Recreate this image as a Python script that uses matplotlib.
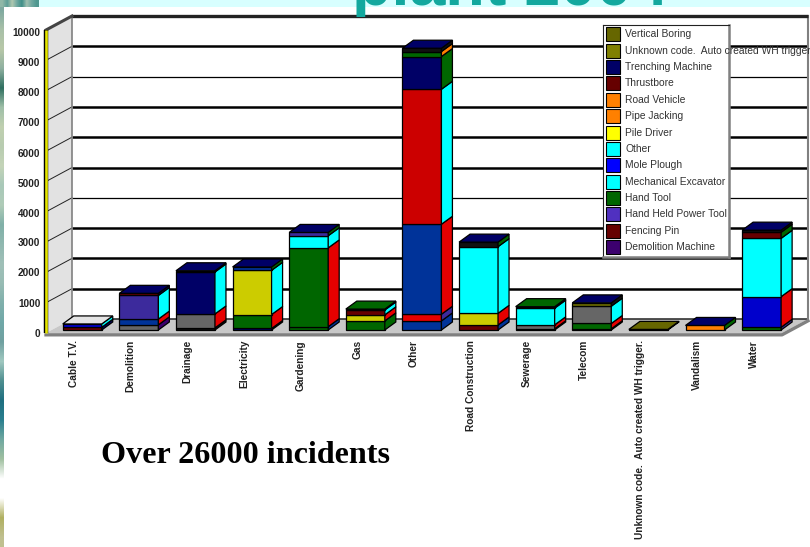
import matplotlib
matplotlib.use("Agg")
import matplotlib.pyplot as plt
import numpy as np
from matplotlib.colors import to_rgb
from matplotlib.patches import Polygon, Rectangle
from matplotlib.transforms import Bbox, ScaledTranslation

W, H = 810, 547

categories = ["Cable T.V.", "Demolition", "Drainage", "Electricity", "Gardening", "Gas", "Other",
              "Road Construction", "Sewerage", "Telecom",
              "Unknown code.  Auto created WH trigger.", "Vandalism", "Water"]

# stacked segments, bottom to top, for each category
stack_values = [
    [90, 110],
    [170, 190, 780, 70],
    [70, 460, 1385, 40],
    [50, 460, 1460, 110, 30],
    [110, 2600, 400, 110],
    [300, 200, 160, 30],
    [300, 220, 2970, 4455, 1080, 165, 110],
    [165, 385, 2200, 150],
    [40, 130, 550, 50],
    [40, 175, 570, 110],
    [20],
    [150],
    [90, 1010, 1925, 200, 70],
]

RED = "#cc0000"
BRED = "#e60000"
ROYAL = "#003399"
BLUE = "#0000cc"
YEL = "#cccc00"
GRN = "#006600"
GRY = "#666666"
NAVY = "#000066"
PUR = "#3c2a9c"
DPUR = "#3c006e"
CYAN = "#00ffff"
ORG = "#ff8000"
DRED = "#660000"
OLV = "#666600"
BLK = "#111111"

stack_front = [
    [DRED, BLUE], [GRY, ROYAL, PUR, DRED], [BLK, GRY, NAVY, DPUR], [NAVY, GRN, YEL, ROYAL, BLK],
    [GRN, GRN, CYAN, PUR], [GRN, YEL, DRED, GRN], [ROYAL, BRED, ROYAL, RED, NAVY, GRN, BLK],
    [DRED, YEL, CYAN, BLK], [BLK, GRY, CYAN, DRED], [DRED, GRN, GRY, OLV], [OLV], [ORG],
    [GRN, BLUE, CYAN, DRED, BLK],
]
stack_side = [
    [NAVY, CYAN], [DPUR, BRED, CYAN, NAVY], [BLK, BRED, CYAN, DPUR], [BLK, BRED, CYAN, GRN],
    [ROYAL, BRED, CYAN, GRN], [GRN, BRED, CYAN, GRN], [ROYAL, PUR, BRED, CYAN, GRN, ORG, BLK],
    [ROYAL, BRED, CYAN, GRN], [BLK, BRED, CYAN, CYAN], [BLK, BRED, CYAN, BLK], [OLV], [GRN],
    [PUR, BRED, CYAN, GRN, BLK],
]
top_colors = ["#e4e4e4", NAVY, NAVY, NAVY, NAVY, GRN, NAVY, NAVY, GRN, NAVY, OLV, NAVY, NAVY]

y_ticks = [0, 1000, 2000, 3000, 4000, 5000, 6000, 7000, 8000, 9000, 10000]
grid_widths = [0, 2, 2, 2, 1, 2, 2, 2, 1, 2, 2]

legend_labels = ["Vertical Boring", "Unknown code.  Auto created WH trigger.", "Trenching Machine", "Thrustbore",
                 "Road Vehicle", "Pipe Jacking", "Pile Driver", "Other", "Mole Plough", "Mechanical Excavator",
                 "Hand Tool", "Hand Held Power Tool", "Fencing Pin", "Demolition Machine"]
legend_colors = [OLV, "#808000", NAVY, DRED, ORG, ORG, "#ffff00", CYAN, "#0000ff", CYAN,
                 GRN, "#5030c0", DRED, DPUR]

strip_colors = ["#7fa9a0", "#a8c0a8", "#b8c8a8", "#8fb0a0", "#2f6f60", "#9fbfa8", "#c0d0b0", "#b8ccb0", "#c4d4b8",
                "#a8c8b8", "#b0ccb8", "#80b0a8", "#90b8b0", "#a0c0b8", "#98bcb4", "#80b0ac", "#70a8a8", "#6fa0a0",
                "#a0c8c0", "#4f8f90", "#1f6f80", "#2a7f8f", "#6fa8a0", "#a0c0a0", "#ffffff", "#ffffff", "#b0b060",
                "#c0c090"]
corner_colors = ["#8fb8a8", "#5f9f98", "#b0c8b0", "#6fa8a0", "#3f8f88", "#9fc0b0", "#70a8a0", "#4f9890"]


def px_box(x0, y0, x1, y1):
    # pixel box measured from the top left, as figure fractions
    return [x0 / W, 1 - y1 / H, (x1 - x0) / W, (y1 - y0) / H]


fig = plt.figure(figsize=(W / 100, H / 100), dpi=100, facecolor="white")

# picture background showing behind the chart
strip = fig.add_axes(px_box(0, 0, 4, H))
strip.imshow(np.array([[to_rgb(c)] for c in strip_colors]), aspect="auto", interpolation="bilinear")
strip.axis("off")
corner = fig.add_axes(px_box(0, 0, 39, 7))
corner.imshow(np.array([[to_rgb(c) for c in corner_colors]]), aspect="auto", interpolation="bilinear")
corner.axis("off")
fig.patches.append(Rectangle((39 / W, 1 - 7 / H), 1, 7 / H, transform=fig.transFigure, color="#d8ffff", lw=0))

ax = fig.add_axes(px_box(46, 30, 782, 333), facecolor="none")
XMIN, XMAX = -0.64, 12.36
ax.set_xlim(XMIN, XMAX)
ax.set_ylim(0, 10000)

px_x = (XMAX - XMIN) / 736
px_y = 10000 / 303
DX, DY = 26 * px_x, 14 * px_y         # depth of the chart box
BDX, BDY = 11 * px_x, 8 * px_y        # depth of one bar
LIFT = 3 * px_y
BAR_W = 39 * px_x

# walls and floor
ax.add_patch(Polygon([(XMIN, 0), (XMIN + DX, DY), (XMIN + DX, 10000 + DY), (XMIN, 10000)],
                     fc="#e2e2e2", ec="none", zorder=0, clip_on=False))
ax.add_patch(Polygon([(XMIN, 0), (XMAX, 0), (XMAX + DX, DY), (XMIN + DX, DY)],
                     fc="#c8c8c8", ec="none", zorder=0, clip_on=False))

for v, lw in zip(y_ticks, grid_widths):
    if v in (0, 10000):
        continue
    ax.plot([XMIN + DX, XMAX + DX], [v + DY, v + DY], color="black", lw=lw * 0.9, zorder=1, clip_on=False,
            solid_capstyle="butt")
    ax.plot([XMIN, XMIN + DX], [v, v + DY], color="#222222", lw=0.7, zorder=1, clip_on=False)

ax.plot([XMIN + DX, XMAX + DX], [DY, DY], color="#333333", lw=1.2, zorder=1, clip_on=False)
ax.plot([XMIN + DX, XMIN + DX], [DY, 10000 + DY], color="#808080", lw=1.2, zorder=1, clip_on=False)
ax.plot([XMAX + DX, XMAX + DX], [DY, 10000 + DY], color="#808080", lw=1.5, zorder=1, clip_on=False)
ax.plot([XMIN + DX, XMAX + DX], [10000 + DY, 10000 + DY], color="#222222", lw=2.4, zorder=1, clip_on=False,
        solid_capstyle="butt")
ax.plot([XMIN, XMIN + DX], [10000, 10000 + DY], color="#444444", lw=2.2, zorder=1, clip_on=False)
ax.plot([XMIN, XMAX, XMAX + DX], [-60, -60, DY - 60], color="#808080", lw=2.4, zorder=1, clip_on=False)
ax.plot([XMIN, XMIN], [0, 10000], color="black", lw=3.2, zorder=2, clip_on=False, solid_capstyle="butt")
ax.plot([XMIN, XMIN], [0, 10000], color="#e6e600", lw=1.9, zorder=2, clip_on=False, solid_capstyle="butt")

# bars
for i, (vals, fronts, sides) in enumerate(zip(stack_values, stack_front, stack_side)):
    bottom = LIFT
    z = 3 + i
    right = i + BAR_W / 2
    for val, fc, sc in zip(vals, fronts, sides):
        ax.bar(i, val, bottom=bottom, width=BAR_W, color=fc, edgecolor="black", linewidth=0.9, zorder=z,
               clip_on=False)
        ax.add_patch(Polygon([(right, bottom), (right + BDX, bottom + BDY), (right + BDX, bottom + val + BDY),
                              (right, bottom + val)], fc=sc, ec="black", lw=0.9, zorder=z, clip_on=False))
        bottom += val
    left = i - BAR_W / 2
    ax.add_patch(Polygon([(left, bottom), (right, bottom), (right + BDX, bottom + BDY), (left + BDX, bottom + BDY)],
                         fc=top_colors[i], ec="black", lw=0.9, zorder=z, clip_on=False))

for s in ax.spines.values():
    s.set_visible(False)
ax.set_xticks([])
ax.set_yticks(y_ticks)
ax.set_yticklabels([str(v) for v in y_ticks], fontfamily="Liberation Sans", fontweight="bold", fontsize=7.2,
                   color="#222222")
ax.tick_params(axis="y", length=0, pad=4)
# labels sit a little under their gridlines in the upper part of the scale
nudge = ScaledTranslation(0, -1.5 / 100, fig.dpi_scale_trans)
for lab, v in zip(ax.get_yticklabels(), y_ticks):
    if v >= 4000:
        lab.set_transform(lab.get_transform() + nudge)

for i, name in enumerate(categories):
    ax.annotate(name, (i, 0), xytext=(-8, -7), textcoords="offset pixels", rotation=90, ha="center", va="top",
                fontfamily="Liberation Sans", fontweight="bold", fontsize=7.3, color="#222222",
                annotation_clip=False, zorder=30)

fig.text(101 / W, 1 - 463 / H, "Over 26000 incidents", fontfamily="Liberation Serif", fontweight="bold",
         fontsize=23.1, color="black", ha="left", va="baseline")

# title cut off by the chart
title = fig.text(352 / W, 1 - 5 / H, "plant 2004", fontfamily="Liberation Sans", fontweight="bold", fontsize=46.5,
                 color="#13a89e", ha="left", va="baseline", zorder=20)
title.set_clip_box(Bbox([[0, H - 17], [W, H]]))
title.set_clip_on(True)

# legend box
leg = fig.add_axes(px_box(603, 25, 729, 257), zorder=10, facecolor="white")
leg.set_xlim(0, 126)
leg.set_ylim(232, 0)
leg.set_xticks([])
leg.set_yticks([])
for name, s in leg.spines.items():
    s.set_color("#808080" if name in ("right", "bottom") else "#222222")
    s.set_linewidth(1.8 if name in ("right", "bottom") else 0.8)
for k, (name, c) in enumerate(zip(legend_labels, legend_colors)):
    yc = 9.3 + k * 16.38
    leg.add_patch(Rectangle((3, yc - 7), 14, 14, fc=c, ec="black", lw=0.8))
    leg.text(22, yc, name, fontfamily="Liberation Sans", fontsize=7.4, color="#333333", ha="left", va="center",
             clip_on=False)

fig.savefig("out.png", dpi=100)
